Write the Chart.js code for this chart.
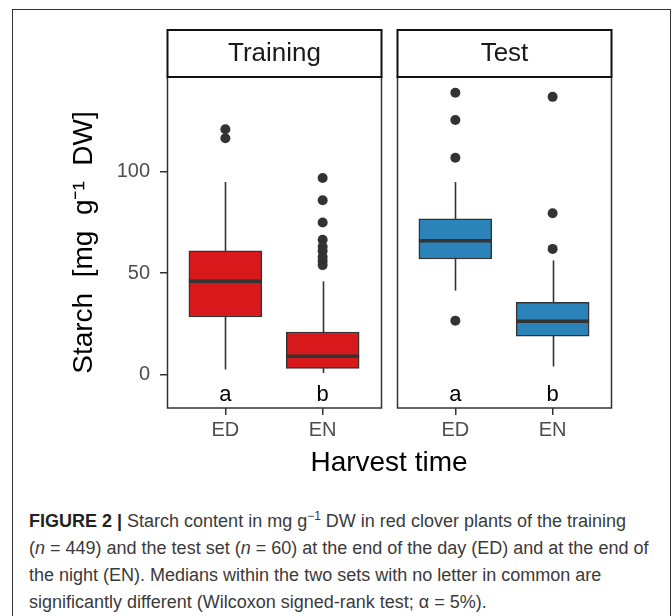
<!DOCTYPE html>
<html>
<head>
<meta charset="utf-8">
<script src="https://cdn.jsdelivr.net/npm/chart.js@4.4.0/dist/chart.umd.min.js"></script>
<style>
  html, body { margin: 0; padding: 0; background: #fff; }
  body { width: 672px; height: 616px; position: relative; overflow: hidden; font-family: "Liberation Sans", Arial, sans-serif; }
  #frame { position: absolute; left: 12px; top: 9px; width: 657px; height: 660px; border: 1px solid #333; }
  #wrap { position: absolute; left: 0; top: 0; width: 672px; height: 480px; }
  #caption { position: absolute; left: 29px; top: 508px; font-size: 18px; line-height: 27px; color: #3a3a3a;
             white-space: nowrap; font-family: "Liberation Sans", Arial, sans-serif; }
  #caption b { color: #222; }
  #caption sup { font-size: 12px; line-height: 0; }
</style>
</head>
<body>
<div id="frame"></div>
<div id="wrap"><canvas id="chart" width="672" height="480"></canvas></div>
<div id="caption">
  <b>FIGURE 2 |</b> Starch content in mg g<sup>&minus;1</sup> DW in red clover plants of the training<br>
  (<i>n</i> = 449) and the test set (<i>n</i> = 60) at the end of the day (ED) and at the end of<br>
  the night (EN). Medians within the two sets with no letter in common are<br>
  significantly different (Wilcoxon signed-rank test; &alpha; = 5%).
</div>
<script>
// data
const harvest = ["ED", "EN"];
const panels = ["Training", "Test"];
const letters = ["a", "b"];
const yTicks = [0, 50, 100];

const trainingLow = [2.5, 0.8];
const trainingQ1 = [28.4, 3];
const trainingMedian = [46, 9];
const trainingQ3 = [61, 21];
const trainingHigh = [95, 46];
const trainingOutliers = [[121, 116.6], [97, 86, 75, 66.5, 63, 61, 58, 56, 54]];

const testLow = [41.4, 4];
const testQ1 = [57, 18.9];
const testMedian = [66, 26.3];
const testQ3 = [76.8, 35.6];
const testHigh = [95, 56.3];
const testOutliers = [[139, 125.6, 107, 26.6], [137, 79.6, 62]];

const colors = ["#d7191c", "#2b83ba"];

// facet layout on one linear x axis (ggplot style: 0.6 expansion each side, small gap between panels)
const panelSpan = 2.2;
const panelGap = 0.164;
const panelStart = p => 0.4 + p * (panelSpan + panelGap);
const posOf = (p, i) => panelStart(p) + 0.6 + i;

const groups = [
  { low: trainingLow, q1: trainingQ1, med: trainingMedian, q3: trainingQ3, high: trainingHigh, out: trainingOutliers },
  { low: testLow, q1: testQ1, med: testMedian, q3: testQ3, high: testHigh, out: testOutliers }
];
const allPos = [];
groups.forEach((g, p) => harvest.forEach((h, i) => allPos.push(posOf(p, i))));

const boxSets = groups.map((g, p) => ({
  type: "bar",
  label: panels[p],
  data: harvest.map((h, i) => ({ x: posOf(p, i), y: [g.q1[i], g.q3[i]] })),
  backgroundColor: colors[p],
  borderColor: "#333",
  borderWidth: 1.5,
  borderSkipped: false,
  barThickness: 73,
  grouped: false,
  order: 2
}));

const outlierPts = [];
groups.forEach((g, p) => g.out.forEach((list, i) => list.forEach(v => outlierPts.push({ x: posOf(p, i), y: v }))));

const facetPlugin = {
  id: "facets",
  beforeDatasetsDraw(chart) {
    const { ctx, scales: { x, y } } = chart;
    ctx.save();
    ctx.strokeStyle = "#333";
    ctx.lineWidth = 1.6;
    groups.forEach((g, p) => harvest.forEach((h, i) => {
      const px = Math.round(x.getPixelForValue(posOf(p, i))) + 0.5;
      ctx.beginPath();
      ctx.moveTo(px, y.getPixelForValue(g.low[i]));
      ctx.lineTo(px, y.getPixelForValue(g.high[i]));
      ctx.stroke();
    }));
    ctx.restore();
  },
  afterDatasetsDraw(chart) {
    const { ctx, scales: { x, y }, chartArea: ca } = chart;
    ctx.save();
    // medians
    ctx.strokeStyle = "#333";
    ctx.lineWidth = 3.5;
    groups.forEach((g, p) => {
      const meta = chart.getDatasetMeta(p);
      harvest.forEach((h, i) => {
        const bar = meta.data[i];
        const py = y.getPixelForValue(g.med[i]);
        ctx.beginPath();
        ctx.moveTo(bar.x - bar.width / 2, py);
        ctx.lineTo(bar.x + bar.width / 2, py);
        ctx.stroke();
      });
    });
    // letters
    ctx.fillStyle = "#000";
    ctx.font = "22px 'Liberation Sans', Arial, sans-serif";
    ctx.textAlign = "center";
    ctx.textBaseline = "middle";
    groups.forEach((g, p) => harvest.forEach((h, i) => {
      ctx.fillText(letters[i], x.getPixelForValue(posOf(p, i)), y.getPixelForValue(-10));
    }));
    // panel borders and strips
    panels.forEach((name, p) => {
      const l = Math.round(x.getPixelForValue(panelStart(p))) + 0.5;
      const r = Math.round(x.getPixelForValue(panelStart(p) + panelSpan)) + 0.5;
      ctx.strokeStyle = "#333";
      ctx.lineWidth = 1.5;
      ctx.strokeRect(l, ca.top, r - l, ca.bottom - ca.top);
      const st = ca.top - 47;
      ctx.fillStyle = "#fff";
      ctx.fillRect(l, st, r - l, 47);
      ctx.strokeStyle = "#111";
      ctx.lineWidth = 2;
      ctx.strokeRect(l, st, r - l, 47);
      ctx.fillStyle = "#1a1a1a";
      ctx.font = "26px 'Liberation Sans', Arial, sans-serif";
      ctx.textAlign = "center";
      ctx.textBaseline = "middle";
      ctx.fillText(name, (l + r) / 2, st + 24);
    });
    ctx.restore();
  }
};

new Chart(document.getElementById("chart"), {
  type: "bar",
  data: {
    datasets: [
      ...boxSets,
      {
        type: "scatter",
        label: "outliers",
        data: outlierPts,
        pointRadius: 5,
        pointBackgroundColor: "#333",
        pointBorderWidth: 0,
        order: 1
      }
    ]
  },
  options: {
    responsive: false,
    animation: false,
    layout: { padding: { top: 77, right: 61, left: 0, bottom: 0 } },
    plugins: { legend: { display: false }, tooltip: { enabled: false } },
    scales: {
      x: {
        type: "linear",
        min: panelStart(0),
        max: panelStart(1) + panelSpan,
        offset: false,
        afterBuildTicks: s => { s.ticks = allPos.map(v => ({ value: v })); },
        afterFit: s => { s.height = 72; },
        border: { display: false },
        grid: { display: true, offset: false, drawOnChartArea: false, drawTicks: true, tickLength: 7, color: "#333", lineWidth: 1.5 },
        ticks: {
          autoSkip: false,
          maxRotation: 0,
          padding: 3,
          color: "#4d4d4d",
          font: { size: 20, family: "'Liberation Sans', Arial, sans-serif" },
          callback: (v, idx) => harvest[idx % harvest.length]
        },
        title: {
          display: true,
          text: "Harvest time",
          color: "#000",
          padding: { top: 0, bottom: 0 },
          font: { size: 28, family: "'Liberation Sans', Arial, sans-serif" }
        }
      },
      y: {
        min: -16.5,
        max: 146.8,
        afterBuildTicks: s => { s.ticks = yTicks.map(v => ({ value: v })); },
        afterFit: s => { s.width = 167; },
        border: { display: false },
        grid: { display: true, drawOnChartArea: false, drawTicks: true, tickLength: 7, color: "#333", lineWidth: 1.5 },
        ticks: {
          padding: 10,
          color: "#4d4d4d",
          font: { size: 20, family: "'Liberation Sans', Arial, sans-serif" }
        },
        title: {
          display: true,
          text: "Starch  [mg  g\u207B\u00B9  DW]",
          color: "#000",
          padding: { top: 67, bottom: 0 },
          font: { size: 28, family: "'Liberation Sans', Arial, sans-serif" }
        }
      }
    }
  },
  plugins: [facetPlugin]
});
</script>
</body>
</html>
